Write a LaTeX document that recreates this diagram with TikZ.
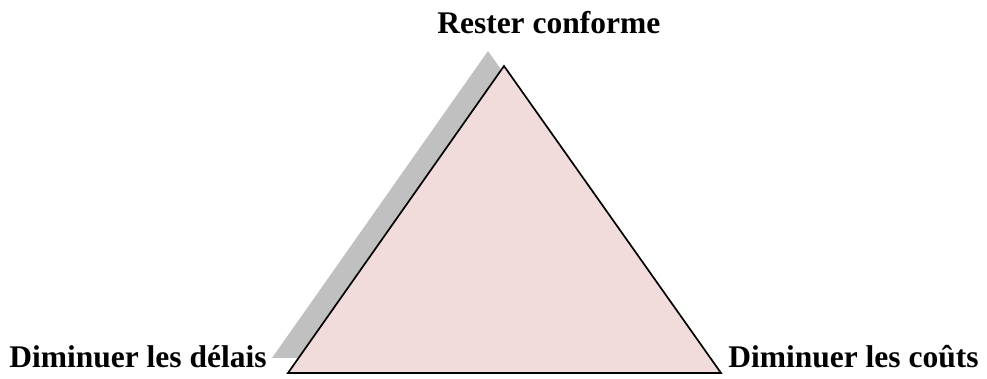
\documentclass[tikz,border=0pt]{standalone}
\usepackage{fontspec}
\setmainfont{Liberation Serif}
\definecolor{pinkfill}{HTML}{F2DCDB}
\definecolor{shadowgray}{HTML}{C0C0C0}
\begin{document}
\begin{tikzpicture}[x=0.025cm, y=-0.025cm,
    goal/.style={font=\fontsize{22.4}{26}\selectfont\bfseries, inner sep=0pt}]
    \useasboundingbox (0,0) rectangle (987,379);

    % Corners
    \coordinate (top) at (504,66);
    \coordinate (left) at (288,373);
    \coordinate (right) at (721,373);

    % Shadow
    \fill[shadowgray] ([shift={(-16,-15)}]top) -- ([shift={(-16,-15)}]left)
        -- ([shift={(-16,-15)}]right) -- cycle;

    % Triangle
    \draw[line width=1.2pt, fill=pinkfill, line join=miter] (top) -- (left) -- (right) -- cycle;

    % Labels
    \node[goal, anchor=base west] (conforme) at (437,34) {Rester conforme};
    \node[goal, anchor=base west] (delais) at (9,368) {Diminuer les délais};
    \node[goal, anchor=base west] (couts) at (728,368) {Diminuer les coûts};
\end{tikzpicture}
\end{document}
